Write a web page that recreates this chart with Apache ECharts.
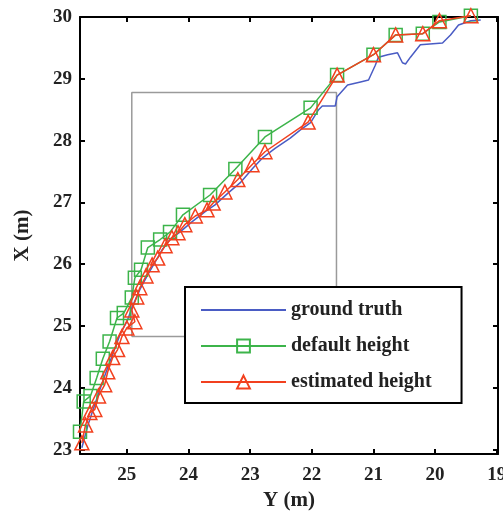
<!DOCTYPE html>
<html>
<head>
<meta charset="utf-8">
<script src="https://cdn.jsdelivr.net/npm/echarts@6/dist/echarts.min.js"></script>
<style>html,body{margin:0;padding:0;background:#fff}#c{width:503px;height:516px}</style>
</head>
<body>
<div id="c"></div>
<script>
// ticks
const xTicks = [19, 20, 21, 22, 23, 24, 25];          // Y (m), reversed
const yTicks = [23, 24, 25, 26, 27, 28, 29, 30];      // X (m)

// ground truth [Y, X]
const groundTruth = [
  [25.73,23.03],[25.63,23.40],[25.52,23.73],[25.41,24.05],[25.31,24.33],[25.20,24.62],
  [25.10,24.89],[25.00,25.07],[24.90,25.34],[24.79,25.59],[24.66,25.83],[24.54,26.04],
  [24.43,26.23],[24.30,26.40],[24.14,26.52],[23.94,26.69],[23.73,26.85],[23.57,26.96],
  [23.36,27.15],[23.16,27.32],[22.95,27.56],[22.80,27.72],[22.59,27.88],[22.35,28.04],
  [22.19,28.17],[22.02,28.29],[21.89,28.50],[21.83,28.56],[21.62,28.56],[21.59,28.71],
  [21.42,28.90],[21.21,28.95],[21.08,28.98],[20.97,29.22],[20.92,29.35],[20.77,29.39],
  [20.61,29.42],[20.53,29.26],[20.48,29.24],[20.40,29.35],[20.24,29.55],[19.88,29.58],
  [19.75,29.71],[19.62,29.87],[19.42,29.94],[19.26,29.95]
];

// default height [Y, X]
const defaultHeight = [
  [25.76,23.29],[25.70,23.78],[25.59,23.87],[25.49,24.16],[25.39,24.47],[25.28,24.75],
  [25.16,25.13],[25.05,25.21],[24.92,25.46],[24.87,25.78],[24.77,25.91],[24.66,26.27],
  [24.46,26.40],[24.30,26.52],[24.09,26.80],[23.65,27.12],[23.24,27.54],[22.76,28.06],
  [22.02,28.53],[21.59,29.06],[21.00,29.39],[20.64,29.71],[20.20,29.73],[19.93,29.92],
  [19.42,30.02]
];

// estimated height [Y, X]
const estimatedHeight = [
  [25.73,23.11],[25.67,23.40],[25.60,23.60],[25.52,23.65],[25.46,23.87],[25.36,24.05],
  [25.31,24.26],[25.23,24.49],[25.15,24.62],[25.08,24.83],[25.00,24.97],[24.87,25.07],
  [24.92,25.26],[24.84,25.47],[24.79,25.62],[24.69,25.81],[24.59,25.99],[24.50,26.10],
  [24.38,26.30],[24.27,26.43],[24.17,26.51],[24.06,26.64],[23.89,26.78],[23.70,26.88],
  [23.60,26.99],[23.41,27.17],[23.20,27.37],[22.97,27.61],[22.76,27.82],[22.06,28.30],
  [21.59,29.06],[21.00,29.39],[20.64,29.71],[20.20,29.73],[19.93,29.94],[19.42,30.02]
];

// zoom rectangle corners [Y, X]
const zoomBox = [[24.92, 24.83], [21.60, 28.78]];

const names = ['ground truth', 'default height', 'estimated height'];
const colors = ['#4a5cc4', '#3cb44a', '#f2401f'];

const boxPath = [
  [zoomBox[0][0], zoomBox[0][1]], [zoomBox[0][0], zoomBox[1][1]],
  [zoomBox[1][0], zoomBox[1][1]], [zoomBox[1][0], zoomBox[0][1]],
  [zoomBox[0][0], zoomBox[0][1]]
];

const font = 'Liberation Serif';
const xMin = 18.98, xMax = 25.76, yMin = 22.93, yMax = 30;

const chart = echarts.init(document.getElementById('c'));
chart.setOption({
  animation: false,
  backgroundColor: '#fff',
  grid: { left: 80, top: 17, width: 418, height: 437, containLabel: false, outerBoundsMode: 'none' },
  legend: {
    data: [
      { name: names[0], itemStyle: { opacity: 0 } },
      { name: names[1] },
      { name: names[2] }
    ],
    orient: 'vertical',
    left: 185, top: 287,
    padding: [13, 30, 11, 15],
    itemWidth: 85, itemHeight: 16, itemGap: 16,
    borderColor: '#000', borderWidth: 2,
    backgroundColor: '#fff',
    textStyle: { fontFamily: font, fontSize: 20, fontWeight: 'bold', color: '#222' }
  },
  xAxis: [{
    type: 'value', inverse: true, min: xMin, max: xMax,
    name: 'Y (m)', nameLocation: 'middle', nameGap: 35,
    nameTextStyle: { fontFamily: font, fontSize: 21, fontWeight: 'bold', color: '#222' },
    axisLine: { lineStyle: { color: '#000', width: 2 } },
    axisTick: { inside: true, length: 5, customValues: xTicks, lineStyle: { color: '#000', width: 2 } },
    axisLabel: { customValues: xTicks, margin: 12, fontFamily: font, fontSize: 19, fontWeight: 'bold', color: '#222' },
    splitLine: { show: false }
  }, {
    type: 'value', inverse: true, min: xMin, max: xMax, position: 'top',
    axisLine: { show: true, lineStyle: { color: '#000', width: 2 } },
    axisTick: { inside: true, length: 5, customValues: xTicks, lineStyle: { color: '#000', width: 2 } },
    axisLabel: { show: false },
    splitLine: { show: false }
  }],
  yAxis: [{
    type: 'value', min: yMin, max: yMax,
    name: 'X (m)', nameLocation: 'middle', nameGap: 47, nameRotate: 90,
    nameTextStyle: { fontFamily: font, fontSize: 21, fontWeight: 'bold', color: '#222' },
    axisLine: { show: true, lineStyle: { color: '#000', width: 2 } },
    axisTick: { inside: true, length: 5, customValues: yTicks, lineStyle: { color: '#000', width: 2 } },
    axisLabel: { customValues: yTicks, margin: 8, fontFamily: font, fontSize: 19, fontWeight: 'bold', color: '#222' },
    splitLine: { show: false }
  }, {
    type: 'value', min: yMin, max: yMax, position: 'right',
    axisLine: { show: true, lineStyle: { color: '#000', width: 2 } },
    axisTick: { inside: true, length: 5, customValues: yTicks, lineStyle: { color: '#000', width: 2 } },
    axisLabel: { show: false },
    splitLine: { show: false }
  }],
  series: [{
    name: 'zoom', type: 'line', data: boxPath, symbol: 'none',
    lineStyle: { color: '#9a9a9a', width: 1.5 }, silent: true, z: 1
  }, {
    name: names[0], type: 'line', data: groundTruth, symbol: 'none',
    lineStyle: { color: colors[0], width: 1.5 }, itemStyle: { color: colors[0] }, z: 2
  }, {
    name: names[1], type: 'line', data: defaultHeight, symbol: 'rect', symbolSize: 13,
    clip: false,
    lineStyle: { color: colors[1], width: 1.5 },
    itemStyle: { color: 'rgba(255,255,255,0)', borderColor: colors[1], borderWidth: 1.5 }, z: 3
  }, {
    name: names[2], type: 'line', data: estimatedHeight, symbol: 'triangle', symbolSize: 14,
    clip: false,
    lineStyle: { color: colors[2], width: 1.5 },
    itemStyle: { color: 'rgba(255,255,255,0)', borderColor: colors[2], borderWidth: 1.5 }, z: 4
  }]
});
</script>
</body>
</html>
